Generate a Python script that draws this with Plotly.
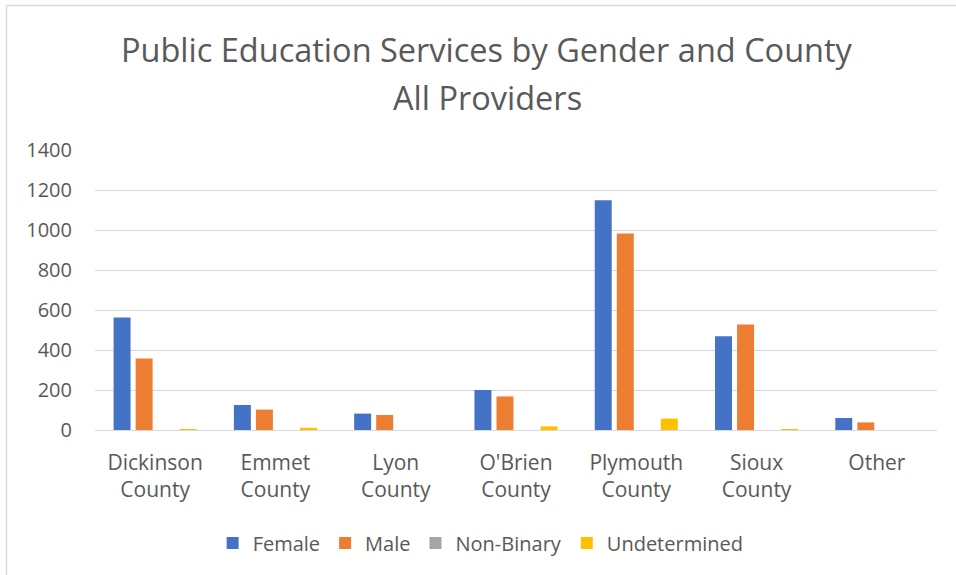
import plotly.graph_objects as go

categories = ["Dickinson<br>County", "Emmet<br>County", "Lyon<br>County", "O'Brien<br>County",
              "Plymouth<br>County", "Sioux<br>County", "Other"]
female = [562, 125, 82, 200, 1149, 469, 60]
male = [357, 102, 75, 168, 982, 528, 38]
non_binary = [0, 0, 0, 0, 0, 0, 0]
undetermined = [5, 11, 0, 18, 57, 3, 0]

series_names = ["Female", "Male", "Non-Binary", "Undetermined"]
series_values = [female, male, non_binary, undetermined]
colors = ["#4472C4", "#ED7D31", "#A5A5A5", "#FFC000"]

FONT = "Open Sans"
GRAY = "#595959"

L, R, T, B = 95, 937, 150, 430
PW, PH = R - L, B - T


def px(x):
    return (x - L) / PW


def py(y):
    return (B - y) / PH


fig = go.Figure()
for name, vals, col in zip(series_names, series_values, colors):
    fig.add_trace(go.Bar(name=name, x=categories, y=vals, marker_color=col,
                         marker_line_width=0))

fig.update_layout(
    width=956, height=575,
    margin=dict(l=L, r=956 - R, t=T, b=575 - B),
    paper_bgcolor="white", plot_bgcolor="white",
    barmode="group", bargap=0.267, bargroupgap=0.23,
    font=dict(family=FONT, color=GRAY, size=20),
    showlegend=True,
    legend=dict(orientation="h", x=0.458, xanchor="center", y=py(543), yanchor="middle",
                font=dict(size=20, color=GRAY), itemwidth=30, traceorder="normal"),
    xaxis=dict(showgrid=False, showline=False, ticks="", tickfont=dict(size=21, color=GRAY),
               ticklabelstandoff=18),
    yaxis=dict(range=[0, 1400], dtick=200, showgrid=True, gridcolor="#D9D9D9", gridwidth=1.3,
               zeroline=True, zerolinecolor="#D9D9D9", zerolinewidth=1.3,
               showline=False, ticks="", tickfont=dict(size=20, color=GRAY),
               ticklabelstandoff=22),
    annotations=[
        dict(text="Public Education Services by Gender and County", xref="paper", yref="paper",
             x=px(487), y=py(50), xanchor="center", yanchor="middle",
             showarrow=False, font=dict(size=32.5, color=GRAY, family=FONT)),
        dict(text="All Providers", xref="paper", yref="paper",
             x=px(487), y=py(97), xanchor="center", yanchor="middle",
             showarrow=False, font=dict(size=32.5, color=GRAY, family=FONT)),
    ],
    shapes=[
        dict(type="line", xref="paper", yref="paper", x0=px(6.5), x1=px(6.5),
             y0=py(580), y1=py(5.5), line=dict(color="#D9D9D9", width=1.5), layer="below"),
        dict(type="line", xref="paper", yref="paper", x0=px(6.5), x1=px(960),
             y0=py(5.5), y1=py(5.5), line=dict(color="#D9D9D9", width=1.5), layer="below"),
    ],
)

fig.write_html("out.html", config={"displayModeBar": False},
               post_script="document.body.style.margin='0';")
